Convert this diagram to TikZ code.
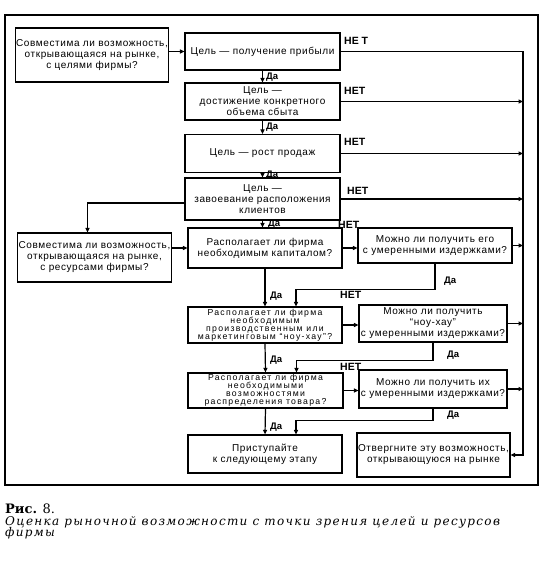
\documentclass[tikz,border=0pt]{standalone}
\usepackage{fontspec}
\setmainfont{Liberation Sans}[LetterSpace=6]
\newfontfamily\wideboxfont{Liberation Sans}[LetterSpace=15]
\newfontfamily\plainsans{Liberation Sans}
\newfontfamily\capfont{DejaVu Serif}
\newfontfamily\capitfont{DejaVu Serif}[LetterSpace=11]
\usetikzlibrary{arrows.meta,calc}
\tikzset{
  box/.style={draw, line width=1.2pt, align=center, inner sep=1pt,
    font=\fontsize{10}{11}\selectfont},
  smallbox/.style={draw, line width=1.2pt, align=center, inner sep=0pt,
    font={\wideboxfont\fontsize{8.7}{8.0}\selectfont\lineskiplimit=-20pt}},
  conn/.style={line width=1.2pt},
  arr/.style={conn, -{Triangle[length=4.5pt,width=4pt]}},
  lbl/.style={inner sep=0pt, font=\plainsans\bfseries\fontsize{9.5}{10}\selectfont},
  nolbl/.style={inner sep=0pt, font=\plainsans\bfseries\fontsize{10.5}{11}\selectfont}
}
\begin{document}
\begin{tikzpicture}[x=1pt,y=-1pt]
\useasboundingbox (0,0) rectangle (548,568);
\fill[white] (0,0) rectangle (548,568);
% outer frame
\coordinate (fA) at (5,15);
\coordinate (fB) at (538,485);
\draw[line width=1.2pt] (fA) rectangle (fB);

% boxes
\node[box, minimum width=152pt, minimum height=54pt] (b1) at (92,55)
  {Совместима ли возможность,\\открывающаяся на рынке,\\с целями фирмы?};
\node[box, minimum width=155pt, minimum height=37pt] (b2) at (262.5,51.5)
  {Цель — получение прибыли};
\node[box, minimum width=155pt, minimum height=37pt] (b3) at (262.5,101.5)
  {Цель —\\достижение конкретного\\объема сбыта};
\node[box, minimum width=155pt, minimum height=38pt] (b4) at (262.5,153.5)
  {Цель — рост продаж};
\node[box, minimum width=155pt, minimum height=42pt] (b5) at (262.5,199)
  {Цель —\\завоевание расположения\\клиентов};
\node[box, minimum width=154pt, minimum height=40pt] (b6) at (265,248)
  {Располагает ли фирма\\необходимым капиталом?};
\node[box, minimum width=151pt, minimum height=49pt] (b7) at (94.5,257.5)
  {Совместима ли возможность,\\открывающаяся на рынке,\\с ресурсами фирмы?};
\node[box, minimum width=154pt, minimum height=35pt] (b8) at (435,245.5)
  {Можно ли получить его\\с умеренными издержками?};
\node[smallbox, minimum width=154pt, minimum height=36pt] (b9) at (265,325)
  {Располагает ли фирма\\необходимым\\производственным или\\маркетинговым “ноу-хау”?};
\node[box, minimum width=148pt, minimum height=37pt] (b10) at (433,323.5)
  {Можно ли получить\\“ноу-хау”\\с умеренными издержками?};
\node[smallbox, minimum width=155pt, minimum height=35pt] (b11) at (265.5,390.5)
  {Располагает ли фирма\\необходимыми\\возможностями\\распределения товара?};
\node[box, minimum width=148pt, minimum height=38pt] (b12) at (433,389)
  {Можно ли получить их\\с умеренными издержками?};
\node[box, minimum width=154pt, minimum height=38pt] (b13) at (265,454)
  {Приступайте\\к следующему этапу};
\node[box, minimum width=147pt, minimum height=44pt] (b14) at (433.5,455)
  {Отвергните эту возможность,\\открывающуюся на рынке};

% right collecting line
\coordinate (vtop) at (523,51.5);

% goal chain
\draw[arr] (b1.east |- b2.west) -- (b2.west);
\draw[arr] (b2.south) -- (b3.north);
\draw[arr] (b3.south) -- (b4.north);
\draw[arr] (b4.south) -- (b5.north);
\draw[arr] (b5.south) -- (b5.south |- b6.north);
\node[lbl, anchor=west] (d1) at (266,77) {Да};
\node[lbl, anchor=west] (d2) at (266,127) {Да};
\node[lbl, anchor=west] (d3) at (266,175) {Да};
\node[lbl, anchor=west] (d4) at (268,224) {Да};

% NO lines to the right
\draw[arr] (b2.east) -- (vtop) -- (vtop |- b14.east) -- (b14.east);
\draw[arr] (b3.east) -- (b3.east -| vtop);
\draw[arr] (b4.east) -- (b4.east -| vtop);
\draw[arr] (b5.east) -- (b5.east -| vtop);
\node[nolbl, anchor=west] (n1) at (344,41) {НЕ Т};
\node[nolbl, anchor=west] (n2) at (344,91) {НЕТ};
\node[nolbl, anchor=west] (n3) at (344,142) {НЕТ};
\node[nolbl, anchor=west] (n4) at (347,191) {НЕТ};

% resources
\draw[arr] ([yshift=-4pt]b5.west) -| ([xshift=-7pt]b7.north);
\draw[arr] (b7.east |- b6.west) -- (b6.west);
\draw[arr] (b6.east) -- (b6.east -| b8.west);
\draw[arr] (b8.east) -- (b8.east -| vtop);
\node[nolbl, anchor=west] (n5) at (338,225) {НЕТ};
\draw[arr] (b6.south) -- (b9.north);
\draw[arr] (b8.south) -- ++(0,26) -| ([xshift=31pt]b9.north);
\node[lbl, anchor=west] (d5) at (270,296) {Да};
\node[lbl, anchor=west] (d6) at (444,281) {Да};

\draw[arr] (b9.east) -- (b9.east -| b10.west);
\draw[arr] (b10.east) -- (b10.east -| vtop);
\node[nolbl, anchor=west] (n6) at (340,295) {НЕТ};
\draw[arr] (b9.south) -- (b11.north);
\draw[arr] (b10.south) -- ++(0,18) -| ([xshift=31pt]b11.north);
\node[lbl, anchor=west] (d7) at (270,360) {Да};
\node[lbl, anchor=west] (d8) at (447,355) {Да};

\draw[arr] (b11.east) -- (b11.east -| b12.west);
\draw[arr] (b12.east) -- (b12.east -| vtop);
\node[nolbl, anchor=west] (n7) at (340,367) {НЕТ};
\draw[arr] (b11.south) -- (b13.north);
\draw[arr] (b12.south) -- ++(0,12) -| ([xshift=31pt]b13.north);
\node[lbl, anchor=west] (d9) at (270,427) {Да};
\node[lbl, anchor=west] (d10) at (447,415) {Да};

% caption
\node[anchor=base west, inner sep=0pt, font=\capfont\fontsize{13}{14}\selectfont] (cap1) at (5,513)
  {\textbf{Рис.} 8.};
\node[anchor=base west, inner sep=0pt,
  font=\capitfont\itshape\fontsize{12}{12}\selectfont] (cap2) at (5,525)
  {Оценка рыночной возможности с точки зрения целей и ресурсов};
\node[anchor=base west, inner sep=0pt,
  font=\capitfont\itshape\fontsize{12}{12}\selectfont] (cap3) at (5,536)
  {фирмы};
\end{tikzpicture}
\end{document}
